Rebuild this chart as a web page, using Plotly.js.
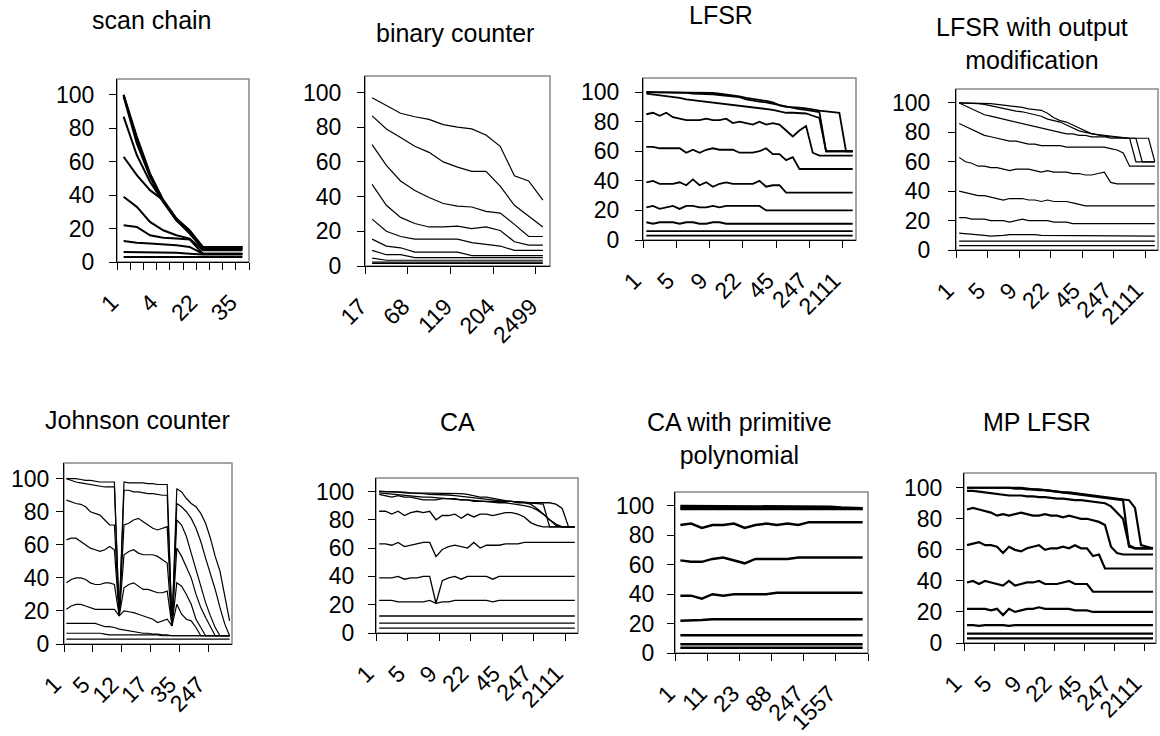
<!DOCTYPE html>
<html><head><meta charset="utf-8">
<script src="https://cdn.plot.ly/plotly-3.0.1.min.js"></script>
<style>html,body{margin:0;padding:0;background:#fff}#chart{width:1160px;height:736px}</style>
</head><body><div id="chart"></div>
<script>
// ---------------- DATA ----------------
const scanChainTicks = ['1','4','22','35'];
const scanChainSeries = [
  [100,75,53,37,26,19,9,9,9,9],
  [100,73,52,37,26,18,9,9,9,9],
  [99,71,51,36,25,18,8.5,8.5,8.5,8.5],
  [87,64,48,36,25,18,8,8,8,8],
  [63,52,43,37,25,17,8,8,8,8],
  [39,33,24,19,16,14,7,7,7,7],
  [22,21,16,14.5,14,13.5,5,5,5,5],
  [12.5,11.5,11,10.5,10,9,5,5,5,5],
  [6,6,6,5.8,5.6,5,4.5,4.5,4.5,4.5],
  [3,3,3,3,3,3,3,3,3,3]
];

const binaryCounterTicks = ['17','68','119','204','2499'];
const binaryCounterSeries = [
  [97,92.5,88,86,84.5,81.5,80,79,75.5,69,52,49,38],
  [86.5,79,74,69,65.5,60,57,54.5,54.5,46,35,29,22.5],
  [70,58,49,43.5,39.5,36,34.5,34,31.5,30.5,24,17,17],
  [47,35,28,24.5,22.5,22.5,23,21.5,22.5,20.5,14,12,12],
  [27,20,17,15.5,15.5,15.5,15.5,13.5,12.5,11.5,9,9,9],
  [15.5,11.5,10.5,8,8,8,8,6,6,6,6,6,6],
  [9,6.5,6.5,4.8,4.8,4.8,4.8,4.8,4.8,4.8,4.8,4.8,4.8],
  [4.5,3.3,3.3,3.3,3.3,3.3,3.3,3.3,3.3,3.3,3.3,3.3,3.3],
  [2.2,2.2,2.2,2.2,2.2,2.2,2.2,2.2,2.2,2.2,2.2,2.2,2.2],
  [1.5,1.5,1.5,1.5,1.5,1.5,1.5,1.5,1.5,1.5,1.5,1.5,1.5]
];

const lfsrTicks = ['1','5','9','22','45','247','2111'];
const lfsrSeries = [
  [100,100,100,100,100,100,100,100,100,100,99.5,99,98.5,98,97,96,95.5,95,94,93,91,90,90,89.5,89,88,87.5,87,86.5,86,60,60],
  [100,100,100,100,100,100,99.5,99,99,99,98.5,98,97.5,97,96.5,95,94,93.5,93,92,91,90,89,88.5,88,87.5,86.5,60,60,60,60,60],
  [99,98.5,98,97.5,97,96,95,94.5,94,93.5,93,92.5,92,91.5,91,90.5,90,89.5,89,88,87,86,86,86,85.5,84,82.5,60,60,60,60,60],
  [85,86,84,86,83,82,81,81,81,82,81,81,82,79,80,79,78,80,78,79,78,74,70,74,77,59,57,57,57,57,57,57],
  [63,63,62,62,62,62,59,61,59,61,62,61,61,61,59,59,59,60,62,58,58,54,56,48,48,48,48,48,48,48,48,48],
  [39,40,38,38,38,39,37,41,37,39,36,38,39,38,38,38,38,40,36,37,37,32,32,32,32,32,32,32,32,32,32,32],
  [22,23,21,22,23,21,23,23,22,22,23,22,23,23,23,23,23,23,20,20,20,20,20,20,20,20,20,20,20,20,20,20],
  [12,11,12,12,12,11,12,12,11,11,12,12,11,11,11,11,11,11,11,11,11,11,11,11,11,11,11,11,11,11,11,11],
  [6,6,6,6,6,6,6,6,6,6,6,6,6,6,6,6,6,6,6,6,6,6,6,6,6,6,6,6,6,6,6,6],
  [3,3,3,3,3,3,3,3,3,3,3,3,3,3,3,3,3,3,3,3,3,3,3,3,3,3,3,3,3,3,3,3]
];

const lfsrOutTicks = ['1','5','9','22','45','247','2111'];
const lfsrOutSeries = [
  [100,100,100,100,100,99.5,99,98.5,98,97.5,97,96,95.5,95,93,90,88,87,85,83,81,79,78.5,78,77.5,77,76.5,76,76,76,76,60],
  [100,100,100,99.5,99,98,97,96,95,94.5,94,93,92,91,89,88,87,85,83,81,80,79,78,77.5,77,76.5,76,76,60,60,60,60],
  [100,98,96,94,92,91,90,89,88,87,86,85,84,83,82,81,80,79,79,78,78,77,77,77,76,76,76,76,76,60,60,60],
  [86,84,82,80,78,77,76,75,74,74,73,72,72,71,71,71,71,70,70,70,70,70,70,70,69,68,66,57,57,57,57,57],
  [63,60,59,57,57,56,56,55,54,55,55,55,54,53,54,53,53,53,52,52,51,51,52,53,46,45,45,45,45,45,45,45],
  [40,39,38,37,37,36,35,34,35,35,35,34,34,33,34,33,33,33,32,31,30,30,30,30,30,30,30,30,30,30,30,30],
  [22,22,21,21,21,20,20,20,19,20,21,20,20,20,20,19,19,19,18,18,18,18,18,18,18,18,18,18,18,18,18,18],
  [11.5,11,11,10.5,10,9.5,9.5,10,10.5,10.5,11,10.5,10.5,10,10,9.5,9.5,9.5,9.5,9.5,9.5,9.5,9.5,9.5,9.5,9.5,9.5,9.5,9.5,9.5,9.5,9.5],
  [6,6,6,6,6,6,6,6,6,6,6,6,6,6,6,6,6,6,6,6,6,6,6,6,6,6,6,6,6,6,6,6],
  [3,3,3,3,3,3,3,3,3,3,3,3,3,3,3,3,3,3,3,3,3,3,3,3,3,3,3,3,3,3,3,3]
];

const johnsonTicks = ['1','5','12','17','35','247'];
const johnsonSeries = [
  [100,100,100,99.5,99,99,98.5,98,98,98,98,17,98,97.5,97.5,97.5,97.5,97,97,96.5,96.5,96.5,11,94,92,88,85,83,79,73,64,53,44,30,14],
  [100,99,98,97.5,97,96.5,96,95.5,95,95,95,17,93,93,92,92,91.5,91,91,90.5,90,90,11,85,83,80,76,70,62,52,43,33,22,12,5],
  [87,86,85,84.5,83,80,79,78,75,72,72,17,72,73,75,76,74,72,70,69,70,71,11,75,72,65,55,45,36,25,17,10,5,5,5],
  [63,64,64,62,60,58,57,56,57,59,57,17,54,56,57,55,54,54,54,53,51,49,11,58,53,47,40,30,22,16,10,5,5,5,5],
  [37,39,40,40,39,37,36,36,37,37,36,17,34,36,37,35,33,33,32,31,31,32,11,37,35,30,24,15,10,5,5,5,5,5,5],
  [21,23,24,24,23,22,21,21,21,21,21,17,20,19.5,19,18,17,16,15,13,14,15,11,24,18,15,14,10,5,5,5,5,5,5,5],
  [12.5,12.5,12.5,12.5,12.5,12.5,12.5,11.5,10.5,10.5,10,9,8.5,8,7.5,7,6.5,6.5,6,6,5.5,5.5,5,5,5,5,5,5,5,5,5,5,5,5,5],
  [6.5,6.5,6.5,6.5,6.5,6.5,6.5,6.5,6,5.5,5.5,5.5,5.5,5.5,5.5,5.5,5.5,5.5,5.5,5.5,5,5,5,5,5,5,5,5,5,5,5,5,5,5,5],
  [3,3,3,3,3,3,3,3,3,3,3,3,3,3,3,3,3,3,3,3,3,3,3,3,3,3,3,3,3,3,3,3,3,3,3]
];

const caTicks = ['1','5','9','22','45','247','2111'];
const caSeries = [
  [100,100,100,100,99.5,99,99,99,98.5,98.5,98.5,98.5,98.5,98.5,98,97,96,96,95,94,93.5,93,93,92.5,92,92,92,92,91,88,75,75],
  [100,100,100,99.5,99,99,98.5,98.5,98,98,98,97.5,97,96.5,96,95,95,94.5,94,93.5,93,93,92.5,92,92,91.5,91,75,75,75,75,75],
  [99,98.5,98,97.5,97,97,96.5,96,96,95.5,95,95,94.5,94,94,93.5,93,93,92.5,92,92,91.5,91,90,89,87,84,80,77,75,75,75],
  [98,97,96,97,96,96,95,94,94,94,95,95,95,94,94,93,93,93,93,93,93,93,92,92,91,88,84,80,76,75,75,75],
  [86,86,84,86,83,85,86,85,86,80,83,83,84,81,84,82,84,84,83,84,85,85,84,82,78,76,75,75,75,75,75,75],
  [63,63,62,64,61,62,63,64,64,54,59,61,62,61,60,64,60,62,62,62,63,63,63,64,64,64,64,64,64,64,64,64],
  [39,39,39,40,38,39,39,40,40,21,37,39,40,38,40,40,40,40,38,40,40,40,40,40,40,40,40,40,40,40,40,40],
  [23,23,23,22,22,22,22,22,23,21,22,22,23,23,23,23,23,23,22,23,23,23,23,23,23,23,23,23,23,23,23,23],
  [12,12,12,12,12,12,12,12,12,12,12,12,12,12,12,12,12,12,12,12,12,12,12,12,12,12,12,12,12,12,12,12],
  [7,7,7,7,7,7,7,7,7,7,7,7,7,7,7,7,7,7,7,7,7,7,7,7,7,7,7,7,7,7,7,7],
  [3.5,3.5,3.5,3.5,3.5,3.5,3.5,3.5,3.5,3.5,3.5,3.5,3.5,3.5,3.5,3.5,3.5,3.5,3.5,3.5,3.5,3.5,3.5,3.5,3.5,3.5,3.5,3.5,3.5,3.5,3.5,3.5]
];

const caPrimTicks = ['1','11','23','88','247','1557'];
const caPrimSeries = [
  [100,100,100,100,100,100,100,100,100,99.5,99.5,99.5,99.5,99.5,99.5,99,99,98.5],
  [99,99,99,99,99,99,99,99,99,99,99,99,99,99,99,99,98.5,98],
  [98,98,98,98,98,98,98,98,98,98,98,98.5,98.5,98.5,98.5,98,98,98],
  [87,88,85,87,87,88,85,87,88,87,88,87,89,89,89,89,89,89],
  [63,62,62,64,65,63,61,64,64,64,64,65,65,65,65,65,65,65],
  [39,39,37,40,39,40,40,40,40,41,41,41,41,41,41,41,41,41],
  [22,22,22.5,23,23,22.5,22.5,23,23,23,23,23,23,23,23,23,23,23],
  [12,12,12,12,12,12,12,12,12,12,12,12,12,12,12,12,12,12],
  [6,6,6,6,6,6,6,6,6,6,6,6,6,6,6,6,6,6],
  [3.5,3.5,3.5,3.5,3.5,3.5,3.5,3.5,3.5,3.5,3.5,3.5,3.5,3.5,3.5,3.5,3.5,3.5]
];

const mpLfsrTicks = ['1','5','9','22','45','247','2111'];
const mpLfsrSeries = [
  [100,100,100,100,100,100,100,100,100,100,99.5,99,99,98.5,98,97.5,97,97,96.5,96,95.5,95,94.5,94,93.5,93,92.5,92,87,63,62,61],
  [100,100,100,100,100,100,100,100,99.5,99.5,99,99,98.5,98.5,98,97.5,97,96.5,96,95.5,95,94.5,94,93.5,93,92.5,92,62,61,61,61,61],
  [98,98,97.5,97,96.5,96,95.5,95,95,95,94.5,94.5,94,94,93.5,93,93,92.5,92,92,91.5,91,90.5,90,88,84,80,63,61,61,61,61],
  [86,87,86,85,84,82,83,82,83,84,83,82,82,83,82,82,81,82,81,80,80,79,78,76,62,58,57,57,57,57,57,57],
  [63,64,65,63,63,62,58,62,60,59,61,62,63,60,61,61,62,61,63,61,61,56,57,48,48,48,48,48,48,48,48,48],
  [39,40,38,40,39,38,37,40,37,38,39,39,40,38,38,38,39,40,38,38,38,33,33,33,33,33,33,33,33,33,33,33],
  [22,22,22,22,21,22,18,22,20,21,22,22,23,22,22,22,22,22,21,21,21,20,20,20,20,20,20,20,20,20,20,20],
  [11.5,11.5,11,11.5,11.5,11.5,11.5,11,11.5,11.5,11.5,11.5,11.5,11.5,11.5,11.5,11.5,11.5,11.5,11.5,11.5,11.5,11.5,11.5,11.5,11.5,11.5,11.5,11.5,11.5,11.5,11.5],
  [6,6,6,6,6,6,6,6,6,6,6,6,6,6,6,6,6,6,6,6,6,6,6,6,6,6,6,6,6,6,6,6],
  [3,3,3,3,3,3,3,3,3,3,3,3,3,3,3,3,3,3,3,3,3,3,3,3,3,3,3,3,3,3,3,3]
];

// ---------------- LAYOUT ----------------
const W = 1160, H = 736;
const FONT = 'Liberation Sans, Arial, Helvetica, sans-serif';
const panels = [
  {title:'scan chain', series:scanChainSeries, ticks:scanChainTicks, labelEvery:3, tickEvery:1, box:[117,79,249,262], tpos:[152,20], lw:2, ygap:10},
  {title:'binary counter', series:binaryCounterSeries, ticks:binaryCounterTicks, labelEvery:3, tickEvery:3, box:[365,76,550,266], tpos:[455,33], lw:1.2, ygap:11},
  {title:'LFSR', series:lfsrSeries, ticks:lfsrTicks, labelEvery:5, tickEvery:5, box:[643,78,856,240], tpos:[721,15], lw:1.8, ygap:11},
  {title:'LFSR with output<br>modification', series:lfsrOutSeries, ticks:lfsrOutTicks, labelEvery:5, tickEvery:5, box:[956,89,1158,250], tpos:[1032,43], lw:1.2, ygap:13},
  {title:'Johnson counter', series:johnsonSeries, ticks:johnsonTicks, labelEvery:6, tickEvery:6, box:[64,463,232,644], tpos:[137,420], lw:1.2, ygap:2},
  {title:'CA', series:caSeries, ticks:caTicks, labelEvery:5, tickEvery:5, box:[376,478,578,633], tpos:[457,422], lw:1.3, ygap:9},
  {title:'CA with primitive<br>polynomial', series:caPrimSeries, ticks:caPrimTicks, labelEvery:3, tickEvery:3, box:[675,492,868,653], tpos:[739,438], lw:2.5, ygap:8},
  {title:'MP LFSR', series:mpLfsrSeries, ticks:mpLfsrTicks, labelEvery:5, tickEvery:5, box:[964,473,1156,643], tpos:[1037,422], lw:2.2, ygap:9}
];

const traces = [];
const layout = {
  width: W, height: H, margin:{l:0,r:0,t:0,b:0},
  paper_bgcolor:'#fff', plot_bgcolor:'#fff', showlegend:false,
  font:{family:FONT, size:23, color:'#000'},
  shapes:[], annotations:[]
};

panels.forEach((p, idx) => {
  const k = idx + 1;
  const xs = k === 1 ? 'x' : 'x' + k;
  const ys = k === 1 ? 'y' : 'y' + k;
  const n = p.series[0].length;
  const xIdx = p.series[0].map((_, i) => i);
  p.series.forEach(s => {
    traces.push({type:'scatter', mode:'lines', x:xIdx, y:s, xaxis:xs, yaxis:ys,
      line:{color:'#000', width:p.lw}, hoverinfo:'skip', showlegend:false});
  });
  const [l, t, r, b] = p.box;
  const tickvals = p.ticks.map((_, j) => j * p.labelEvery);
  const minorVals = [];
  for (let v = -0.5; v <= n - 0.5 + 1e-9; v += p.tickEvery) minorVals.push(v);
  layout['xaxis' + (k === 1 ? '' : k)] = {
    domain:[l / W, r / W], anchor:ys, range:[-0.5, n - 0.5],
    showgrid:false, zeroline:false, showline:true, linecolor:'#000', linewidth:1,
    tickmode:'array', tickvals:tickvals, ticktext:p.ticks, tickangle:-45,
    ticks:'outside', ticklen:0, tickfont:{size:23, family:FONT},
    ticklabelstandoff:17, ticklabelshift:-12, ticklabeloverflow:'allow',
    minor:{tickmode:'array', tickvals:minorVals, ticks:'outside', ticklen:7, tickcolor:'#000', tickwidth:1, showgrid:false},
    fixedrange:true
  };
  layout['yaxis' + (k === 1 ? '' : k)] = {
    domain:[1 - b / H, 1 - t / H], anchor:xs, range:[0, 109.5],
    showgrid:false, zeroline:false, showline:true, linecolor:'#000', linewidth:1,
    tickmode:'array', tickvals:[0,20,40,60,80,100], ticks:'outside', ticklen:7,
    tickcolor:'#000', tickfont:{size:23, family:FONT}, ticklabelstandoff:p.ygap,
    fixedrange:true
  };
  layout.shapes.push({type:'rect', xref:xs + ' domain', yref:ys + ' domain', x0:0, x1:1, y0:0, y1:1,
    line:{color:'#888', width:1.5}, layer:'below'});
  layout.annotations.push({xref:'paper', yref:'paper', x:p.tpos[0] / W, y:1 - p.tpos[1] / H,
    xanchor:'center', yanchor:'middle', text:p.title, showarrow:false,
    font:{size:25, family:FONT, color:'#000'}});
});

Plotly.newPlot('chart', traces, layout, {staticPlot:true, displayModeBar:false});
</script>
</body></html>
